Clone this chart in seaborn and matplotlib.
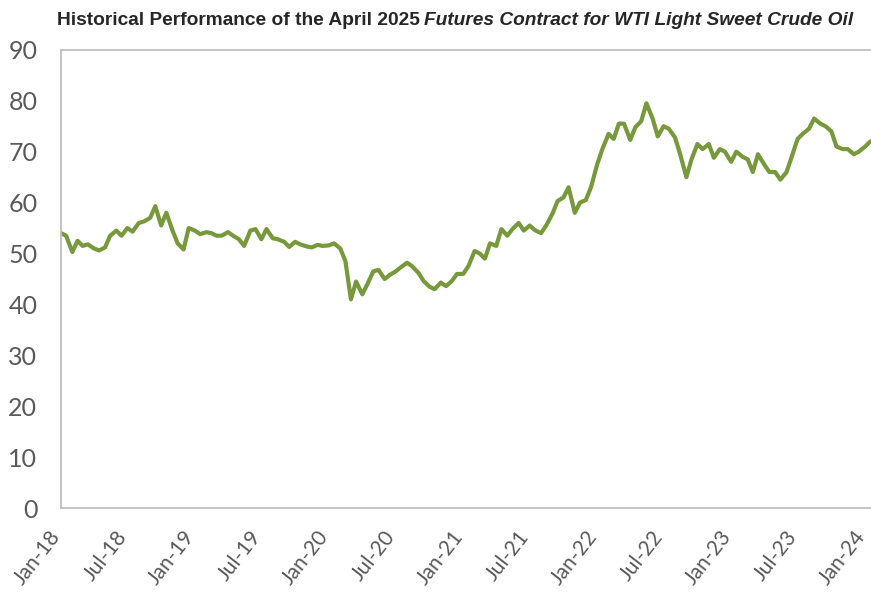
import numpy as np
import pandas as pd
import matplotlib
matplotlib.use('Agg')
import matplotlib.pyplot as plt
import matplotlib.transforms as mtransforms
import seaborn as sns

prices_2018 = [54.0, 53.5, 50.3, 52.5, 51.5, 51.8, 51.0, 50.6, 51.2, 53.5, 54.5, 53.5,
               55.0, 54.3, 56.0, 56.3, 57.0, 59.3, 55.5, 58.0, 54.5, 52.0, 50.8, 55.0]
prices_2019 = [54.5, 53.8, 54.2, 54.0, 53.5, 53.5, 54.2, 53.5, 52.8, 51.5, 54.5, 54.8,
               52.8, 54.8, 53.0, 52.8, 52.3, 51.3, 52.3, 51.8, 51.4, 51.2, 51.7, 51.5]
prices_2020 = [51.6, 52.0, 51.0, 48.5, 41.0, 44.5, 42.0, 44.0, 46.5, 46.8, 45.0, 45.8,
               46.5, 47.3, 48.2, 47.5, 46.2, 44.6, 43.5, 43.0, 44.3, 43.6, 44.6, 46.0]
prices_2021 = [46.0, 47.5, 50.5, 50.0, 49.0, 52.0, 51.5, 54.8, 53.5, 54.8, 56.0, 54.5,
               55.5, 54.6, 54.0, 55.5, 57.8, 60.3, 61.0, 63.0, 58.0, 60.0, 60.5, 63.0]
prices_2022 = [67.5, 70.5, 73.5, 72.5, 75.5, 75.5, 72.3, 74.8, 76.0, 79.5, 76.5, 73.0,
               75.0, 74.5, 72.8, 69.5, 65.0, 68.5, 71.5, 70.5, 71.5, 68.8, 70.5, 70.0]
prices_2023 = [68.0, 70.0, 69.0, 68.5, 66.0, 69.5, 67.5, 66.0, 66.0, 64.5, 66.0, 69.0,
               72.5, 73.5, 74.5, 76.5, 75.5, 75.0, 74.0, 71.0, 70.5, 70.5, 69.5, 70.0]
prices_2024 = [71.0, 72.0]

prices = prices_2018 + prices_2019 + prices_2020 + prices_2021 + prices_2022 + prices_2023 + prices_2024
dates = pd.date_range('2018-01-01', periods=len(prices), freq='SMS')
df = pd.DataFrame({'date': dates, 'price': prices})

tick_dates = pd.date_range('2018-01-01', '2024-01-01', freq='6MS')
tick_labels = [d.strftime('%b-%y') for d in tick_dates]

sns.set_style('white')
plt.rcParams['font.family'] = ['Lato', 'DejaVu Sans']

fig = plt.figure(figsize=(8.71, 6.0), dpi=100)
ax = fig.add_axes([0.070, 0.153, 0.930, 0.764])
sns.lineplot(data=df, x='date', y='price', color='#78993b', linewidth=3.0, ax=ax)

ax.set_xlim(pd.Timestamp('2018-01-01'), pd.Timestamp('2024-01-17'))
ax.set_ylim(0, 90)
ax.set_yticks(range(0, 91, 10))
ax.set_xticks(tick_dates)
ax.set_xticklabels(tick_labels, rotation=52, ha='right', va='center', rotation_mode='anchor')
ax.set_xlabel('')
ax.set_ylabel('')

grey = '#bfbfbf'
for side in ['left', 'bottom', 'top']:
    ax.spines[side].set_color(grey)
    ax.spines[side].set_linewidth(1.3)
ax.spines['right'].set_visible(False)
ax.tick_params(axis='x', length=6, width=1.2, color=grey, direction='out', pad=12,
               labelsize=15, labelcolor='#595959')
ax.tick_params(axis='y', length=0, pad=17, labelsize=18, labelcolor='#595959')

# nudge the date labels a little left so the last one stays inside the figure
shift = mtransforms.ScaledTranslation(-4 / 100, 0, fig.dpi_scale_trans)
for tick in ax.xaxis.get_major_ticks():
    tick.label1.set_transform(tick.label1.get_transform() + shift)

# title: plain bold part + bold italic part
t1 = fig.text(0.066, 0.966, 'Historical Performance of the April 2025', fontsize=13.75,
              weight='bold', family='Liberation Sans', va='center')
fig.canvas.draw()
bb = t1.get_window_extent()
fig.text((bb.x1 + 4) / fig.bbox.width, 0.966, 'Futures Contract for WTI Light Sweet Crude Oil',
         fontsize=13.75, weight='bold', style='italic', family='Liberation Sans', va='center')

fig.savefig('out.png', dpi=100)
